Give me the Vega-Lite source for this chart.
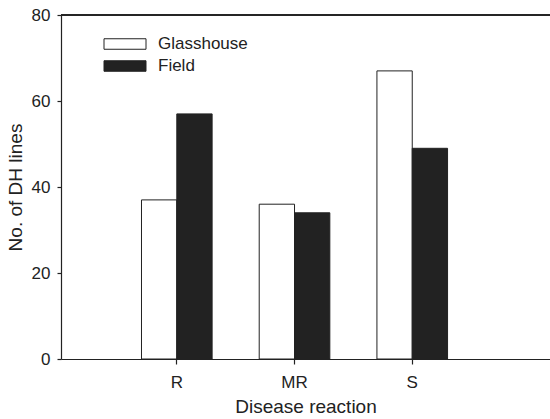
{
  "$schema": "https://vega.github.io/schema/vega-lite/v6.json",
  "width": 489,
  "height": 344,
  "autosize": {"type": "none"},
  "padding": {"left": 61, "top": 15, "right": 0, "bottom": 60},
  "config": {
    "view": {"stroke": null},
    "font": "Liberation Sans",
    "axis": {"domainColor": "#222", "tickColor": "#222", "labelColor": "#222", "titleColor": "#222", "grid": false, "labelFontSize": 17, "titleFontSize": 19, "titleFontWeight": "normal", "domainWidth": 1.2, "tickWidth": 1.2}
  },
  "data": {
    "values": [
      {"reaction": "R", "site": "Glasshouse", "n": 37},
      {"reaction": "R", "site": "Field", "n": 57},
      {"reaction": "MR", "site": "Glasshouse", "n": 36},
      {"reaction": "MR", "site": "Field", "n": 34},
      {"reaction": "S", "site": "Glasshouse", "n": 67},
      {"reaction": "S", "site": "Field", "n": 49}
    ]
  },
  "layer": [
    {
      "mark": {"type": "bar", "stroke": "#222", "strokeWidth": 1},
      "encoding": {
        "x": {
          "field": "reaction", "type": "nominal", "sort": ["R", "MR", "S"],
          "scale": {"paddingInner": 0.4, "paddingOuter": 0.777, "align": 0.44},
          "axis": {"title": "Disease reaction", "labelAngle": 0, "tickSize": 5, "labelPadding": 10, "titlePadding": 7, "orient": "bottom"}
        },
        "xOffset": {"field": "site", "type": "nominal", "sort": ["Glasshouse", "Field"]},
        "y": {
          "field": "n", "type": "quantitative",
          "scale": {"domain": [0, 80], "nice": false},
          "axis": {"title": "No. of DH lines", "values": [0, 20, 40, 60, 80], "tickSize": 4, "labelPadding": 7, "titlePadding": 6}
        },
        "fill": {
          "field": "site", "type": "nominal", "sort": ["Glasshouse", "Field"],
          "scale": {"domain": ["Glasshouse", "Field"], "range": ["#ffffff", "#222222"]},
          "legend": {
            "title": null, "orient": "none", "legendX": 53, "legendY": 18,
            "symbolType": "M-2,-0.5H2V0.5H-2Z", "symbolSize": 441,
            "symbolStrokeColor": "#222", "symbolStrokeWidth": 1,
            "labelFontSize": 17, "labelColor": "#222", "rowPadding": 3, "labelOffset": 22
          }
        }
      }
    },
    {
      "mark": {"type": "rule", "color": "#222", "strokeWidth": 1.2},
      "encoding": {"y": {"datum": 80}}
    }
  ]
}
